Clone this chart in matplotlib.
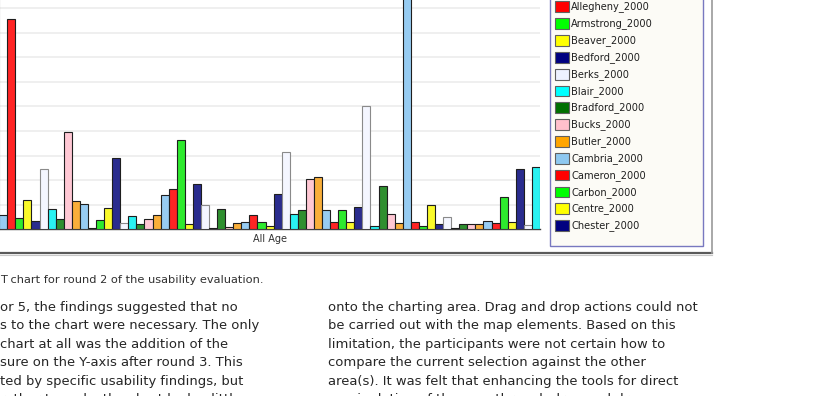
import matplotlib.pyplot as plt
from matplotlib.patches import Rectangle

W, H = 818, 396

# Pennsylvania counties, population 2000 (thousands)
counties = ["Adams", "Allegheny", "Armstrong", "Beaver", "Bedford", "Berks", "Blair",
            "Bradford", "Bucks", "Butler", "Cambria", "Cameron", "Carbon", "Centre",
            "Chester", "Clarion", "Clearfield", "Clinton", "Columbia", "Crawford",
            "Cumberland", "Dauphin", "Delaware", "Elk", "Erie", "Fayette", "Forest",
            "Franklin", "Fulton", "Greene", "Huntingdon", "Indiana", "Jefferson",
            "Juniata", "Lackawanna", "Lancaster", "Lawrence", "Lebanon", "Lehigh",
            "Luzerne", "Lycoming", "McKean", "Mercer", "Mifflin", "Monroe",
            "Montgomery", "Montour", "Northampton", "Northumberland", "Perry",
            "Philadelphia", "Pike", "Potter", "Schuylkill", "Snyder", "Somerset",
            "Sullivan", "Susquehanna", "Tioga", "Union", "Venango", "Warren",
            "Washington", "Wayne", "Westmoreland", "Wyoming", "York"]
pop_2000 = [85, 1282, 71, 179, 50, 368, 124, 61, 596, 175,
            155, 6, 58, 132, 434, 41, 81, 32, 61, 87,
            211, 248, 545, 32, 278, 146, 5, 124, 14, 39,
            45, 86, 45, 22, 213, 470, 91, 120, 307, 319,
            120, 45, 120, 45, 138, 752, 18, 266, 94, 40,
            1518, 45, 18, 146, 34, 75, 6, 34, 34, 34,
            52, 37, 199, 45, 368, 24, 378]
palette = ["#97CCF2", "#FF2424", "#2EEA2E", "#FAFA2A", "#2A2C8E",
           "#F4F6FF", "#2AF2F2", "#2F8F2F", "#FFC8D4", "#F9AE3A"]
swatch_colors = ["#8EC8F0", "#FF0000", "#00FF00", "#FFFF00", "#000080",
                 "#EEF2FF", "#00FFFF", "#006F00", "#FFC0CC", "#FFA500"]
legend_first, legend_last = 1, 14  # entries visible in the scrolled legend

paragraph_left = ["or 5, the findings suggested that no",
                  "s to the chart were necessary. The only",
                  "chart at all was the addition of the",
                  "sure on the Y-axis after round 3. This",
                  "ted by specific usability findings, but",
                  "rather to make the chart look a little"]
paragraph_right = ["onto the charting area. Drag and drop actions could not",
                   "be carried out with the map elements. Based on this",
                   "limitation, the participants were not certain how to",
                   "compare the current selection against the other",
                   "area(s). It was felt that enhancing the tools for direct",
                   "manipulation of the map through drag and drop"]
caption = "T chart for round 2 of the usability evaluation."


def rect(x0, y_top, w, h):
    # pixel box (from top-left) -> figure fraction
    return [x0 / W, (H - y_top - h) / H, w / W, h / H]


fig = plt.figure(figsize=(W / 100, H / 100), dpi=100)
fig.patch.set_facecolor("white")

# bar chart area
base_y = 229.3
ax_h = 250
ax = fig.add_axes(rect(-0.8, base_y - ax_h, 540.8, ax_h))
n = len(pop_2000)
colors = [palette[i % len(palette)] for i in range(n)]
edges = ["#8a8a8a" if i % len(palette) == 5 else "#1e1e1e" for i in range(n)]
ax.bar(range(n), pop_2000, width=1, align="edge", color=colors,
       edgecolor=edges, linewidth=0.8, zorder=3)
ax.set_xlim(0, n)
ax.set_ylim(0, ax_h / 0.1639)
ax.set_yticks(range(0, 1550, 150))
ax.grid(axis="y", color="#ececec", linewidth=1.2, zorder=0)
ax.tick_params(left=False, bottom=False, labelleft=False, labelbottom=False)
for s in ["top", "right"]:
    ax.spines[s].set_visible(False)
ax.spines["bottom"].set_color("#404040")
ax.spines["bottom"].set_linewidth(1.0)
ax.spines["left"].set_color("#909090")
ax.set_facecolor("white")

# overlay in pixel coordinates for frame, legend and page text
ov = fig.add_axes([0, 0, 1, 1], zorder=5)
ov.set_xlim(0, W)
ov.set_ylim(H, 0)
ov.axis("off")
ov.patch.set_alpha(0)

ov.text(270, 239, "All Age", ha="center", va="center", fontsize=7,
        color="#303030", family="DejaVu Sans")

# window frame
ov.plot([0, 712], [253, 253], color="#5a5a5a", lw=1.6)
ov.plot([0, 712], [254.6, 254.6], color="#c8c8c8", lw=0.8)
ov.plot([711.5, 711.5], [-2, 253], color="#9a9a9a", lw=1.2)

# legend box
ov.add_patch(Rectangle((550, -5), 153, 250.7, facecolor="#FCFBF6",
                       edgecolor="#7878C0", lw=1.0))
for i in range(legend_first, legend_last + 1):
    yc = 6.7 + (i - 1) * 16.83
    ov.add_patch(Rectangle((555, yc - 5.3), 14, 10.8,
                           facecolor=swatch_colors[i % len(swatch_colors)],
                           edgecolor="#606060", lw=0.8))
    ov.text(571, yc + 0.3, counties[i] + "_2000", ha="left", va="center",
            fontsize=7.1, color="#202020", family="DejaVu Sans")

# page text
ov.text(0, 283, caption, ha="left", va="baseline", fontsize=8.2,
        color="#303030", family="DejaVu Sans")
for k, line in enumerate(paragraph_left):
    ov.text(0, 311 + k * 18.4, line, ha="left", va="baseline", fontsize=9.45,
            color="#262626", family="DejaVu Sans")
for k, line in enumerate(paragraph_right):
    ov.text(328, 311 + k * 18.4, line, ha="left", va="baseline", fontsize=9.45,
            color="#262626", family="DejaVu Sans")

fig.savefig("out.png", dpi=100)
